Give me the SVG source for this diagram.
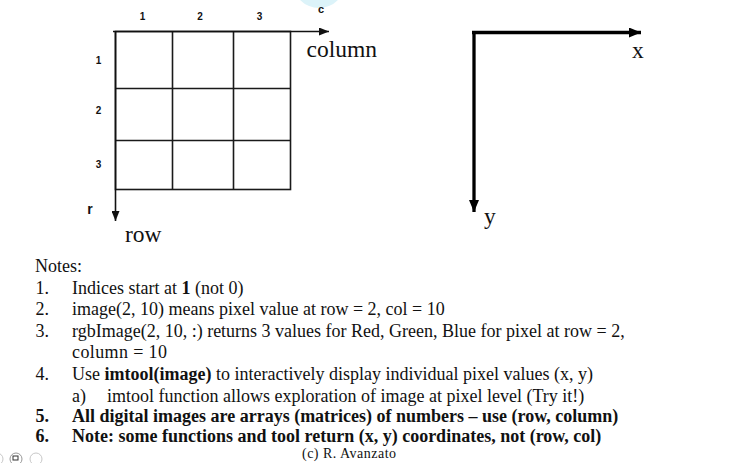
<svg xmlns="http://www.w3.org/2000/svg" width="737" height="463" viewBox="0 0 737 463">
<style>
.grid{stroke:#1a1a1a;stroke-width:1.6;fill:none}
.ax{stroke:#111;stroke-width:1.6;fill:none}
.axb{stroke:#000;stroke-width:3.3;fill:none}
.idx{font-family:"Liberation Sans",Arial,sans-serif;font-size:10px;font-weight:bold;fill:#111;text-anchor:middle}
.lbl{font-family:"Liberation Serif","Times New Roman",serif;font-size:23.5px;fill:#111}
.note{font-family:"Liberation Serif","Times New Roman",serif;font-size:18px;fill:#111}
.b{font-weight:bold}
.copy{font-family:"Liberation Serif","Times New Roman",serif;font-size:14px;fill:#111}
</style>
<defs>
<marker id="ah" viewBox="0 0 10 8" refX="10" refY="4" markerWidth="10" markerHeight="8" markerUnits="userSpaceOnUse" orient="auto"><path d="M0,0 L10,4 L0,8 Z" fill="#111"/></marker>
<marker id="ahb" viewBox="0 0 12 10" refX="12" refY="5" markerWidth="12" markerHeight="10" markerUnits="userSpaceOnUse" orient="auto"><path d="M0,0 L12,5 L0,10 Z" fill="#000"/></marker>
</defs>
<rect width="737" height="463" fill="#fff"/>
<circle cx="319" cy="-18" r="26" fill="#dcf3f9"/>
<g id="matrix-grid">
<rect class="grid" x="115.5" y="31.5" width="175" height="158"/>
<line class="grid" x1="172.5" y1="31.5" x2="172.5" y2="189.5"/>
<line class="grid" x1="233.5" y1="31.5" x2="233.5" y2="189.5"/>
<line class="grid" x1="115.5" y1="88.5" x2="290.5" y2="88.5"/>
<line class="grid" x1="115.5" y1="140.5" x2="290.5" y2="140.5"/>
</g>
<g id="connectors">
<line class="ax" x1="113" y1="31.5" x2="329" y2="31.5" marker-end="url(#ah)"/>
<line class="ax" x1="115.5" y1="31.5" x2="115.5" y2="221" marker-end="url(#ah)"/>
<line class="axb" x1="472" y1="32.5" x2="641" y2="32.5" marker-end="url(#ahb)"/>
<line class="axb" x1="474" y1="31" x2="474" y2="212" marker-end="url(#ahb)"/>
</g>
<g id="indices">
<text class="idx" x="142.5" y="20">1</text>
<text class="idx" x="200" y="20">2</text>
<text class="idx" x="259.5" y="20">3</text>
<text class="idx" x="98.5" y="64">1</text>
<text class="idx" x="98.5" y="114">2</text>
<text class="idx" x="98.5" y="168">3</text>
<text class="idx" x="321" y="13" style="font-size:11px">c</text>
<text class="idx" x="90" y="214" style="font-size:14px">r</text>
</g>
<g id="axis-labels">
<text class="lbl" x="306.5" y="57">column</text>
<text class="lbl" x="125" y="242">row</text>
<text class="lbl" x="632" y="58">x</text>
<text class="lbl" x="484" y="224">y</text>
</g>
<g id="notes">
<text class="note" x="35" y="272">Notes:</text>
<text class="note" x="35.5" y="293.5">1.</text>
<text class="note" x="72" y="293.5">Indices start at <tspan class="b">1</tspan> (not 0)</text>
<text class="note" x="35.5" y="315">2.</text>
<text class="note" x="72" y="315">image(2, 10) means pixel value at row = 2, col = 10</text>
<text class="note" x="35.5" y="336.5">3.</text>
<text class="note" x="72" y="336.5">rgbImage(2, 10, :) returns 3 values for Red, Green, Blue for pixel at row = 2,</text>
<text class="note" x="72" y="358" textLength="95" lengthAdjust="spacing">column = 10</text>
<text class="note" x="35.5" y="380">4.</text>
<text class="note" x="72" y="380">Use <tspan class="b">imtool(image)</tspan> to interactively display individual pixel values (x, y)</text>
<text class="note" x="72" y="401.5">a)</text>
<text class="note" x="107" y="401.5">imtool function allows exploration of image at pixel level (Try it!)</text>
<text class="note b" x="35.5" y="421.5">5.</text>
<text class="note b" x="72" y="421.5">All digital images are arrays (matrices) of numbers – use (row, column)</text>
<text class="note b" x="35.5" y="441.5">6.</text>
<text class="note b" x="72" y="441.5">Note: some functions and tool return (x, y) coordinates, not (row, col)</text>
<text class="copy" x="302" y="458" textLength="94" lengthAdjust="spacing">(c) R. Avanzato</text>
</g>
<g id="ui-icons" fill="none" stroke="#c8c8c8" stroke-width="1">
<circle cx="-3" cy="459" r="6"/>
<circle cx="16" cy="459" r="6" stroke="#999"/>
<rect x="13" y="456" width="5" height="4" stroke="#333"/>
<circle cx="36" cy="459" r="6"/>
</g>
</svg>
